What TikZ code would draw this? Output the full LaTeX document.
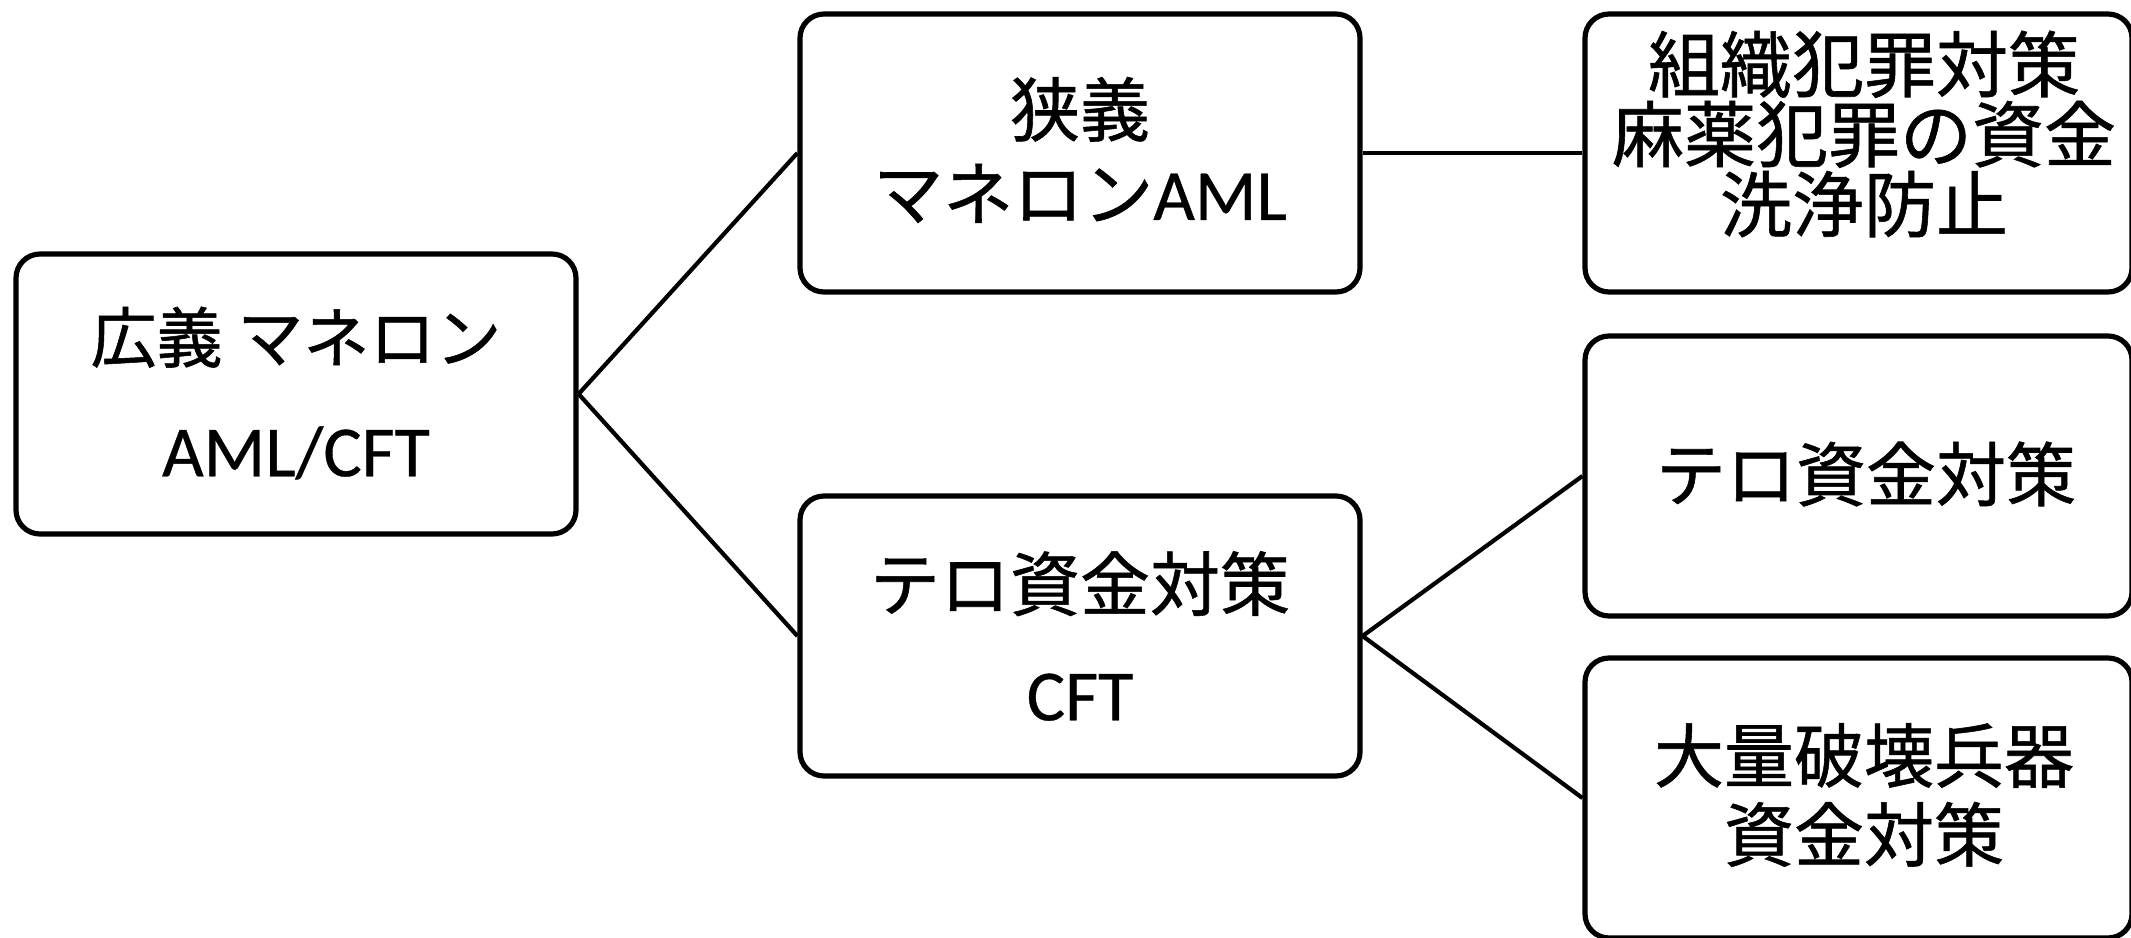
\documentclass[tikz,border=0pt]{standalone}
\usepackage{fontspec}
\newfontfamily\jp[FakeBold=0.8]{Noto Sans CJK JP}
\newfontfamily\lat[FakeBold=0.5]{Carlito}
\begin{document}
\begin{tikzpicture}[x=0.5pt,y=-0.5pt,
  box/.style={draw=black,line width=2.6pt,rounded corners=12pt,fill=white,inner sep=0pt},
  txt/.style={inner sep=0pt,align=center,text=black},
  link/.style={line width=2.1pt,black}]
\useasboundingbox[fill=white] (0,0) rectangle (2131,937);
% boxes
\node[box,minimum width=280pt,minimum height=140pt] (L) at (296,394) {};
\node[box,minimum width=280pt,minimum height=139pt] (M1) at (1080,153) {};
\node[box,minimum width=280pt,minimum height=140pt] (M2) at (1080,636) {};
\node[box,minimum width=273.5pt,minimum height=139pt] (R1) at (1858.5,153) {};
\node[box,minimum width=273.5pt,minimum height=140pt] (R2) at (1858.5,476) {};
\node[box,minimum width=273.5pt,minimum height=140pt] (R3) at (1858.5,798) {};
% connectors
\draw[link] (L.east) -- (M1.west);
\draw[link] (L.east) -- (M2.west);
\draw[link] (M1.east) -- (R1.west);
\draw[link] (M2.east) -- (R2.west);
\draw[link] (M2.east) -- (R3.west);
% texts
\node[txt,font=\fontsize{33}{57}\selectfont] (tL) at (296,393) {{\jp 広義 マネロン}\\{\lat\fontsize{36}{57}\selectfont AML/CFT}};
\node[txt,font=\fontsize{35}{42}\selectfont] (tM1) at (1080,150) {{\jp 狭義}\\{\jp マネロン}{\lat\fontsize{36}{42}\selectfont AML}};
\node[txt,font=\fontsize{35}{55}\selectfont] (tM2) at (1080,636) {{\jp テロ資金対策}\\{\lat\fontsize{36}{55}\selectfont CFT}};
\node[txt,font=\fontsize{36}{35}\selectfont] (tR1) at (1864,134) {{\jp 組織犯罪対策}\\{\jp 麻薬犯罪の資金}\\{\jp 洗浄防止}};
\node[txt,font=\fontsize{35}{40}\selectfont] (tR2) at (1866,474) {{\jp テロ資金対策}};
\node[txt,font=\fontsize{35}{39.5}\selectfont] (tR3) at (1864,795) {{\jp 大量破壊兵器}\\{\jp 資金対策}};
\end{tikzpicture}
\end{document}
